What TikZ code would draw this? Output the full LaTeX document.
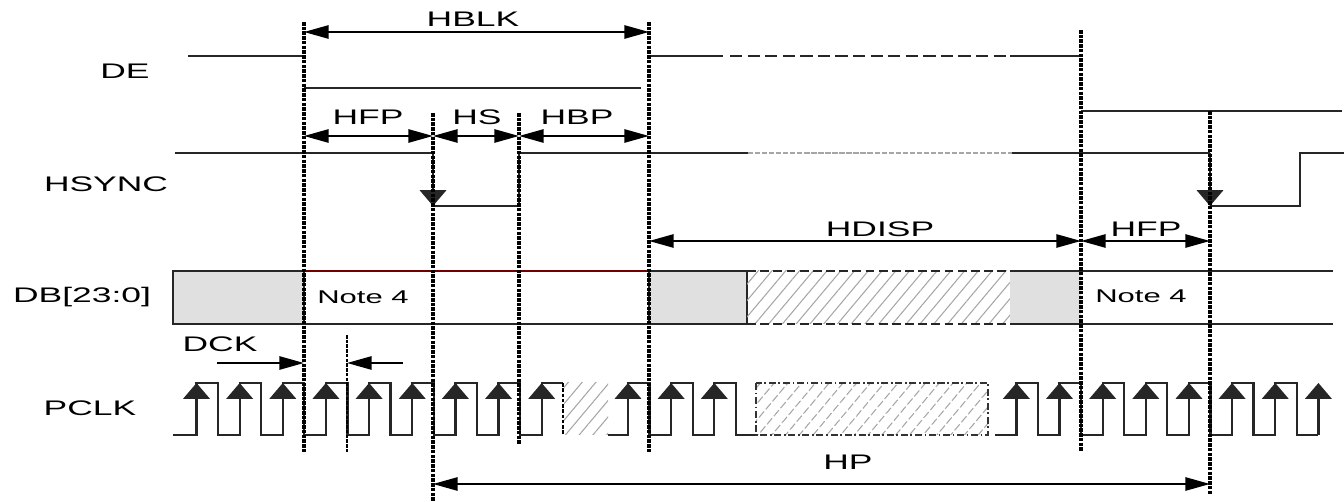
\documentclass[tikz,border=0pt]{standalone}
\usepackage{fontspec}
\setmainfont{Liberation Sans}
\usepackage{graphicx}
\usetikzlibrary{arrows.meta}
\usetikzlibrary{patterns.meta}

\newcommand{\wide}[1]{\scalebox{1.68}[1]{#1}}

\begin{document}
\begin{tikzpicture}[line cap=butt,line join=miter,x=0.02cm,y=-0.02cm,
  >={Triangle[length=14pt,width=7.5pt]},
  sig/.style={line width=1.3pt,color=black!85},
  cut/.style={line width=2pt,dash pattern=on 2pt off 0.7pt},
  dim/.style={line width=1.2pt,<->},
  edge/.style={sig,-{Triangle[length=9pt,width=15pt]}},
  hatch/.style={pattern={Lines[angle=50,distance=6pt,line width=0.6pt]},pattern color=black!35},
  lbl/.style={font=\fontsize{12}{14}\selectfont,inner sep=0pt},
  note/.style={font=\fontsize{10.5}{12}\selectfont,inner sep=0pt}]
\useasboundingbox (0,0) rectangle (1344,502);
% signal names
\node[lbl] (de) at (125,71) {\wide{DE}};
\node[lbl] (hsync) at (106,184) {\wide{HSYNC}};
\node[lbl] (db) at (82,297) {\wide{DB[23:0]}};
\node[lbl] (pclk) at (90,408) {\wide{PCLK}};
% DE
\draw [sig] (188,56)-- (304,56);
\draw [sig] (304,88)-- (641,88);
\draw [sig] (649,56)-- (723,56);
\draw [sig,dash pattern=on 7pt off 3pt] (730,56)-- (1010,56);
\draw [sig] (1010,56)-- (1081,56);
\draw [sig] (1081,111)-- (1342,111);
% HSYNC
\draw [sig] (175,153)-- (433,153);
\draw [edge] (433,153)-- (433,206);
\draw [sig] (433,206)-- (519,206)-- (519,153)-- (748,153);
\draw [sig,color=black!35,dash pattern=on 3pt off 1pt] (748,153)-- (1012,153);
\draw [sig] (1012,153)-- (1210,153);
\draw [edge] (1210,153)-- (1210,206);
\draw [sig] (1210,206)-- (1300,206)-- (1300,153)-- (1344,153);
% DB[23:0]
\filldraw [sig,fill=black!12] (173,271) rectangle (304,324);
\draw [line width=0.9pt,color=red!45!black] (304,271)-- (649,271);
\draw [sig] (304,324)-- (649,324);
\filldraw [sig,fill=black!12] (649,271) rectangle (747,324);
\fill [hatch] (747,271) rectangle (1010,324);
\draw [sig,dash pattern=on 5pt off 2.5pt] (747,271)-- (1010,271);
\draw [sig,dash pattern=on 5pt off 2.5pt] (747,324)-- (1010,324);
\fill [black!12] (1010,271) rectangle (1081,324);
\draw [sig] (1010,271)-- (1333,271);
\draw [sig] (1010,324)-- (1333,324);
\node[note] (note1) at (363,297) {\wide{Note 4}};
\node[note] (note2) at (1141,296) {\wide{Note 4}};
% PCLK
\draw [sig] (173,435) foreach \k in {0,...,7} { -- ({196.5+43.15*\k},435) |- ({218+43.15*\k},383) -- ({218+43.15*\k},435) }
  -- (541.7,435)-- (541.7,383)-- (563.2,383);
\draw [line width=0.9pt,dash pattern=on 2pt off 1pt] (563.2,383)-- (563.2,435);
\fill [hatch] (564,383) rectangle (608,435);
\draw [sig] (608,435) foreach \k in {10,11,12} { -- ({196.5+43.15*\k},435) |- ({218+43.15*\k},383) -- ({218+43.15*\k},435) }
  -- (756,435);
\filldraw [hatch,draw=black!80,line width=1.2pt,dash pattern=on 4pt off 1.5pt on 1pt off 1.5pt] (756,383) rectangle (988,435);
\draw [sig] (995,435) foreach \k in {19,...,25} { -- ({196.5+43.15*\k},435) |- ({218+43.15*\k},383) -- ({218+43.15*\k},435) }
  -- (1318.4,435);
\foreach \k in {0,...,8,10,11,12,19,20,...,26}
  \draw [edge] ({196.5+43.15*\k},435)-- ({196.5+43.15*\k},383);
% timing marks
\draw [cut] (304,22)-- (304,452);
\draw [cut] (433,113)-- (433,502);
\draw [cut] (519,113)-- (519,445);
\draw [cut] (649,22)-- (649,452);
\draw [cut] (1081,30)-- (1081,452);
\draw [cut] (1210,111)-- (1210,495);
\draw [cut,line width=1.5pt] (347,335)-- (347,452);
% intervals
\draw [dim] (304,32)-- (649,32);
\node[lbl] (hblk) at (473,19) {\wide{HBLK}};
\draw [dim] (304,136)-- (433,136);
\draw [dim] (433,136)-- (519,136);
\draw [dim] (519,136)-- (649,136);
\node[lbl] (hfp) at (368,117) {\wide{HFP}};
\node[lbl] (hs) at (477,117) {\wide{HS}};
\node[lbl] (hbp) at (577,117) {\wide{HBP}};
\draw [dim] (649,241)-- (1081,241);
\draw [dim] (1081,241)-- (1210,241);
\node[lbl] (hdisp) at (880,229) {\wide{HDISP}};
\node[lbl] (hfp2) at (1146,229) {\wide{HFP}};
\draw [dim] (433,484)-- (1210,484);
\node[lbl] (hp) at (848,462) {\wide{HP}};
\draw [line width=1.2pt,->] (217,363)-- (304,363);
\draw [line width=1.2pt,->] (403,363)-- (347,363);
\node[lbl] (dck) at (220,344) {\wide{DCK}};
\end{tikzpicture}
\end{document}
